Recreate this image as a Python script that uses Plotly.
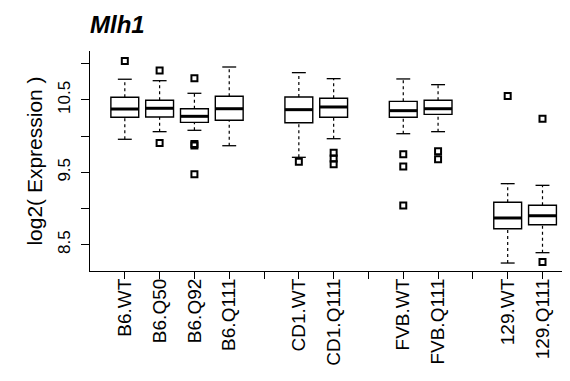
import plotly.graph_objects as go

# ---- data ----
slot_labels = ["B6.WT", "B6.Q50", "B6.Q92", "B6.Q111", "",
               "CD1.WT", "CD1.Q111", "",
               "FVB.WT", "FVB.Q111", "",
               "129.WT", "129.Q111"]
categories = ["B6.WT", "B6.Q50", "B6.Q92", "B6.Q111", "CD1.WT",
              "CD1.Q111", "FVB.WT", "FVB.Q111", "129.WT", "129.Q111"]
q1 = [10.260, 10.264, 10.190, 10.218, 10.185, 10.260, 10.260, 10.300, 8.721, 8.776]
median = [10.374, 10.384, 10.273, 10.378, 10.365, 10.402, 10.351, 10.378, 8.869, 8.900]
q3 = [10.536, 10.494, 10.378, 10.550, 10.540, 10.522, 10.480, 10.494, 9.086, 9.044]
lower_whisker = [9.956, 10.061, 10.080, 9.867, 9.707, 9.964, 10.033, 10.061, 8.247, 8.390]
upper_whisker = [10.785, 10.765, 10.591, 10.954, 10.876, 10.793, 10.789, 10.710, 9.343, 9.320]
outliers = [[11.037], [10.906, 9.905], [10.798, 9.89, 9.87, 9.474], [],
            [9.646], [9.77, 9.69, 9.61], [9.749, 9.58, 9.04], [9.79, 9.68],
            [10.554], [10.24, 8.26]]
y_tickvals = [8.5, 9.0, 9.5, 10.0, 10.5, 11.0]
y_ticktext = ["8.5", "", "9.5", "", "10.5", ""]

slot_pos = list(range(1, len(slot_labels) + 1))
xpos = [slot_labels.index(c) + 1 for c in categories]

BOX_W = 0.8
CAP_HALF = 0.2
FONT = "Liberation Sans, Arial, sans-serif"

fig = go.Figure()

# whiskers (dashed)
wx, wy = [], []
for x, a, b, lo, hi in zip(xpos, q1, q3, lower_whisker, upper_whisker):
    wx += [x, x, None, x, x, None]
    wy += [lo, a, None, b, hi, None]
fig.add_trace(go.Scatter(x=wx, y=wy, mode="lines",
                         line=dict(color="black", width=1.2, dash="3px,3px"),
                         hoverinfo="skip", showlegend=False))

# whisker caps
cx, cy = [], []
for x, lo, hi in zip(xpos, lower_whisker, upper_whisker):
    cx += [x - CAP_HALF, x + CAP_HALF, None, x - CAP_HALF, x + CAP_HALF, None]
    cy += [lo, lo, None, hi, hi, None]
fig.add_trace(go.Scatter(x=cx, y=cy, mode="lines",
                         line=dict(color="black", width=1.3),
                         hoverinfo="skip", showlegend=False))

# boxes
fig.add_trace(go.Box(x=xpos, q1=q1, median=median, q3=q3,
                     lowerfence=q1, upperfence=q3,
                     width=BOX_W, whiskerwidth=0,
                     fillcolor="white", line=dict(color="black", width=1.4),
                     boxpoints=False, showlegend=False, hoverinfo="skip"))

# thick medians
mx, my = [], []
for x, m in zip(xpos, median):
    mx += [x - BOX_W / 2, x + BOX_W / 2, None]
    my += [m, m, None]
fig.add_trace(go.Scatter(x=mx, y=my, mode="lines",
                         line=dict(color="black", width=3),
                         hoverinfo="skip", showlegend=False))

# outliers
ox, oy = [], []
for x, vals in zip(xpos, outliers):
    for v in vals:
        ox.append(x)
        oy.append(v)
fig.add_trace(go.Scatter(x=ox, y=oy, mode="markers",
                         marker=dict(symbol="square-open", size=6, color="black",
                                     line=dict(color="black", width=2)),
                         hoverinfo="skip", showlegend=False))

fig.update_layout(
    width=570, height=381,
    margin=dict(l=82, r=0, t=43, b=118),
    paper_bgcolor="white", plot_bgcolor="white",
    font=dict(family=FONT, color="black"),
    title=dict(text="<b><i>Mlh1</i></b>", x=82 / 570, xanchor="left",
               xref="container", yref="container", y=1 - 17 / 381, yanchor="middle",
               font=dict(family=FONT, size=24, color="black")),
)
fig.update_xaxes(range=[0.0, 14.02], showgrid=False, zeroline=False,
                 showline=True, linecolor="black", linewidth=1.2,
                 tickmode="array", tickvals=slot_pos, ticktext=slot_labels,
                 ticks="outside", ticklen=7, tickwidth=1, tickcolor="black",
                 tickangle=-90, tickfont=dict(size=19, family=FONT),
                 ticklabelstandoff=-8)
fig.update_yaxes(range=[8.137, 11.175], showgrid=False, zeroline=False,
                 showline=True, linecolor="black", linewidth=1.2,
                 tickmode="array", tickvals=y_tickvals, ticktext=y_ticktext,
                 ticks="outside", ticklen=8, tickwidth=1, tickcolor="black",
                 tickangle=-90, tickfont=dict(size=17, family=FONT),
                 ticklabelstandoff=4,
                 title=dict(text="log2( Expression )", standoff=6,
                            font=dict(size=21, family=FONT)))

fig.write_html("out.html")
